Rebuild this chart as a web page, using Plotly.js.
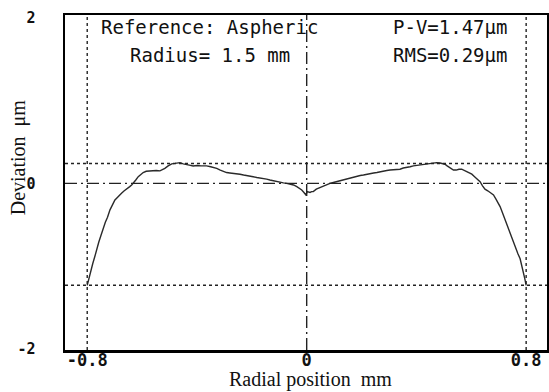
<!DOCTYPE html>
<html>
<head>
<meta charset="utf-8">
<script src="https://cdn.plot.ly/plotly-3.0.1.min.js"></script>
<style>html,body{margin:0;padding:0;background:#fff;}#chart{width:549px;height:392px;}</style>
</head>
<body>
<div id="chart"></div>
<script>
// Radial position (mm)
const radialPos = [
 -0.8,-0.795,-0.788,-0.78,-0.772,-0.766,-0.758,-0.75,-0.742,-0.734,-0.726,-0.717,-0.708,-0.699,-0.69,-0.682,-0.675,-0.665,-0.655,-0.645,-0.638,-0.632,-0.623,-0.614,-0.605,-0.596,-0.585,-0.571,-0.56,-0.548,-0.535,-0.525,-0.517,-0.505,-0.492,-0.48,-0.47,-0.462,-0.45,-0.44,-0.428,-0.414,-0.4,-0.385,-0.365,-0.35,-0.338,-0.328,-0.315,-0.303,-0.292,-0.28,-0.268,-0.255,-0.243,-0.23,-0.218,-0.207,-0.195,-0.182,-0.17,-0.158,-0.146,-0.134,-0.122,-0.11,-0.097,-0.085,-0.073,-0.061,-0.048,-0.036,-0.027,-0.018,-0.01,-0.003,
 0.002,0.007,0.012,0.018,0.024,0.035,0.049,0.061,0.073,0.085,0.097,0.109,0.122,0.134,0.146,0.158,0.17,0.183,0.195,0.207,0.219,0.232,0.244,0.256,0.268,0.28,0.292,0.304,0.316,0.328,0.34,0.352,0.365,0.377,0.389,0.401,0.413,0.425,0.438,0.45,0.462,0.474,0.486,0.496,0.504,0.512,0.52,0.528,0.535,0.545,0.555,0.565,0.575,0.585,0.595,0.602,0.612,0.622,0.632,0.641,0.65,0.66,0.67,0.681,0.69,0.698,0.705,0.713,0.721,0.729,0.737,0.745,0.753,0.762,0.77,0.778,0.785,0.79,0.795,0.8
];
// Deviation (µm)
const deviation = [
 -1.23,-1.16,-1.07,-0.97,-0.88,-0.79,-0.71,-0.63,-0.54,-0.47,-0.41,-0.32,-0.26,-0.20,-0.17,-0.14,-0.12,-0.09,-0.07,-0.04,-0.02,0.00,0.04,0.08,0.11,0.13,0.145,0.15,0.15,0.155,0.15,0.165,0.18,0.21,0.235,0.24,0.245,0.25,0.235,0.225,0.22,0.21,0.215,0.21,0.21,0.2,0.19,0.18,0.16,0.145,0.13,0.125,0.12,0.12,0.11,0.1,0.095,0.085,0.08,0.07,0.065,0.055,0.05,0.04,0.03,0.02,0.01,0.005,0.0,-0.01,-0.02,-0.04,-0.06,-0.08,-0.11,-0.14,
 -0.10,-0.11,-0.11,-0.10,-0.10,-0.07,-0.05,-0.03,-0.01,0.0,0.01,0.02,0.035,0.045,0.055,0.07,0.075,0.085,0.095,0.1,0.11,0.115,0.125,0.13,0.14,0.15,0.155,0.16,0.165,0.165,0.17,0.185,0.19,0.2,0.21,0.215,0.22,0.23,0.23,0.24,0.245,0.25,0.245,0.24,0.23,0.21,0.19,0.17,0.16,0.16,0.17,0.17,0.155,0.14,0.125,0.11,0.08,0.05,0.02,-0.03,-0.07,-0.09,-0.11,-0.14,-0.19,-0.24,-0.28,-0.35,-0.42,-0.50,-0.57,-0.65,-0.72,-0.79,-0.85,-0.91,-1.0,-1.07,-1.15,-1.23
];
const xTickVals = [-0.8, 0, 0.8];
const xTickText = ["-0.8", "0", "0.8"];
const yTickVals = [-2, 0, 2];
const yTickText = ["-2", "0", "2"];
const peakLevel = 0.24;     // upper dotted line
const valleyLevel = -1.23;  // lower dotted line
const edgeMarks = [-0.8, 0.8]; // vertical dotted lines
const infoLines = ["Reference: Aspheric", "Radius= 1.5 mm", "P-V=1.47μm", "RMS=0.29μm"];

const dotted = {color:'#222', width:1.4, dash:'3px,3px'};
const dashdot = {color:'#222', width:1.4, dash:'12px,4px,2px,4px'};

const shapes = [
  {type:'line', xref:'paper', x0:0, x1:1, yref:'y', y0:peakLevel, y1:peakLevel, line:dotted},
  {type:'line', xref:'paper', x0:0, x1:1, yref:'y', y0:valleyLevel, y1:valleyLevel, line:dotted},
  {type:'line', xref:'paper', x0:0, x1:1, yref:'y', y0:0, y1:0, line:dashdot},
  {type:'line', xref:'x', x0:0, x1:0, yref:'paper', y0:0, y1:1, line:dashdot},
];
edgeMarks.forEach(v => shapes.push({type:'line', xref:'x', x0:v, x1:v, yref:'paper', y0:0, y1:1, line:dotted}));

const mono = {family:'DejaVu Sans Mono', size:19, color:'#111'};
const serif = {family:'Liberation Serif, Times New Roman, serif', size:20, color:'#111'};

const annotations = [
  {text:infoLines[0], xref:'paper', yref:'paper', x:0.299, y:0.964, xanchor:'center', yanchor:'middle', showarrow:false, font:mono},
  {text:infoLines[1], xref:'paper', yref:'paper', x:0.301, y:0.881, xanchor:'center', yanchor:'middle', showarrow:false, font:mono},
  {text:infoLines[2], xref:'paper', yref:'paper', x:0.798, y:0.964, xanchor:'center', yanchor:'middle', showarrow:false, font:mono},
  {text:infoLines[3], xref:'paper', yref:'paper', x:0.798, y:0.881, xanchor:'center', yanchor:'middle', showarrow:false, font:mono},
  {text:'Radial position  mm', xref:'paper', yref:'paper', x:0.51, y:-0.087, xanchor:'center', yanchor:'middle', showarrow:false, font:serif},
  {text:'Deviation  μm', xref:'paper', yref:'paper', x:-0.097, y:0.576, xanchor:'center', yanchor:'middle', showarrow:false, textangle:-90, font:serif},
];

const trace = {
  x: radialPos, y: deviation, type:'scatter', mode:'lines',
  line:{color:'#2a2a2a', width:1.4}, hoverinfo:'skip'
};

const layout = {
  width:549, height:392,
  margin:{l:65, r:2, t:15, b:42},
  paper_bgcolor:'#fff', plot_bgcolor:'#fff',
  showlegend:false,
  xaxis:{range:[-0.881, 0.876], tickvals:xTickVals, ticktext:xTickText, showgrid:false, zeroline:false,
         showline:true, mirror:true, linecolor:'#000', linewidth:2.5, ticks:'', ticklabelstandoff:-7,
         tickfont:{family:'DejaVu Sans Mono', size:17, color:'#111', weight:'bold'}},
  yaxis:{range:[-2.01, 2.03], tickvals:yTickVals, ticktext:yTickText, showgrid:false, zeroline:false,
         showline:true, mirror:true, linecolor:'#000', linewidth:2.5, ticks:'', ticklabelstandoff:24,
         tickfont:{family:'DejaVu Sans Mono', size:15, color:'#111', weight:'bold'}},
  shapes: shapes,
  annotations: annotations
};

Plotly.newPlot('chart', [trace], layout, {staticPlot:true, displayModeBar:false});
</script>
</body>
</html>
